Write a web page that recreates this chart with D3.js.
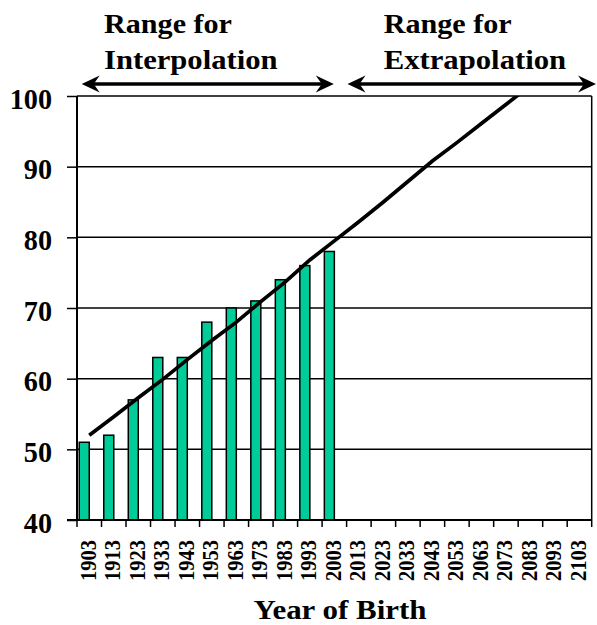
<!DOCTYPE html>
<html>
<head>
<meta charset="utf-8">
<script src="https://cdn.jsdelivr.net/npm/d3@7"></script>
<style>
  html, body { margin: 0; padding: 0; background: #fff; }
  svg { display: block; }
  text { font-family: "Liberation Serif", "Times New Roman", Times, Tinos, "Nimbus Roman", FreeSerif, serif; font-weight: bold; fill: #000; }
</style>
</head>
<body>
<svg id="chart" width="597" height="625"></svg>
<script>
const years = ["1903","1913","1923","1933","1943","1953","1963","1973","1983","1993","2003",
               "2013","2023","2033","2043","2053","2063","2073","2083","2093","2103"];
const barValues = [51, 52, 57, 63, 63, 68, 70, 71, 74, 76, 78];
const trendValues = [52.0, 54.6, 57.3, 59.9, 62.7, 65.4, 68.0, 70.9, 73.7, 76.8, 79.5,
                     82.2, 85.0, 87.9, 90.8, 93.4, 96.1, 98.8, 101.5];
const yTicks = [40, 50, 60, 70, 80, 90, 100];
const rangeLabels = [["Range for", "Interpolation"], ["Range for", "Extrapolation"]];
const xTitle = "Year of Birth";

(function () {
const svg = d3.select("#chart");
const pL = 77, pR = 591.7, pT = 96, pB = 520;

const x = d3.scaleBand().domain(years).range([pL, pR]).padding(0);
const y = d3.scaleLinear().domain([40, 100]).range([pB, pT]);
const bw = x.bandwidth();

svg.append("g").selectAll("line").data(yTicks.filter(d => d > 40)).join("line")
  .attr("x1", pL).attr("x2", pR)
  .attr("y1", d => y(d)).attr("y2", d => y(d))
  .attr("stroke", "#000").attr("stroke-width", 1.5);

svg.append("line").attr("x1", pR).attr("x2", pR).attr("y1", pT).attr("y2", pB)
  .attr("stroke", "#000").attr("stroke-width", 1.5);

svg.append("g").selectAll("rect").data(barValues).join("rect")
  .attr("x", (d, i) => x(years[i]) + bw / 2 - 10)
  .attr("width", 10)
  .attr("y", d => y(d))
  .attr("height", d => pB - y(d))
  .attr("fill", "#00CC99")
  .attr("stroke", "#000").attr("stroke-width", 1.5);

svg.append("clipPath").attr("id", "plotclip").append("rect")
  .attr("x", pL).attr("y", pT).attr("width", pR - pL).attr("height", pB - pT);
const line = d3.line().x((d, i) => x(years[i]) + bw / 2).y(d => y(d));
svg.append("path").datum(trendValues)
  .attr("d", line).attr("fill", "none").attr("stroke", "#000")
  .attr("stroke-width", 3.7).attr("clip-path", "url(#plotclip)");

const yAxis = svg.append("g").attr("transform", `translate(${pL},0)`)
  .call(d3.axisLeft(y).tickValues(yTicks).tickSize(10).tickPadding(0).tickFormat(d3.format("d")));
yAxis.attr("font-family", null).attr("font-size", null);
yAxis.select(".domain").attr("stroke", "#000").attr("stroke-width", 2).attr("d", `M0,${pT}V${pB}`);
yAxis.selectAll(".tick line").attr("stroke", "#000").attr("stroke-width", 1.5);
yAxis.selectAll(".tick text")
  .attr("x", -25).attr("dy", null).attr("y", 12)
  .attr("textLength", d => String(d).length * 14.1).attr("lengthAdjust", "spacingAndGlyphs")
  .style("font-size", "29px");

const xAxis = svg.append("g").attr("transform", `translate(0,${pB})`)
  .call(d3.axisBottom(x).tickSize(0).tickFormat(""));
xAxis.select(".domain").attr("stroke", "#000").attr("stroke-width", 2).attr("d", `M${pL - 10},0H${pR}`);
xAxis.selectAll(".tick").remove();
const boundaries = years.map(d => x(d)).concat([pR]);
xAxis.selectAll("line.tk").data(boundaries).join("line").attr("class", "tk")
  .attr("x1", d => d).attr("x2", d => d).attr("y1", 0).attr("y2", 7)
  .attr("stroke", "#000").attr("stroke-width", 1.5);

svg.append("g").selectAll("text").data(years).join("text")
  .attr("transform", d => `translate(${x(d) + bw / 2 + 6.5},540) rotate(-90)`)
  .attr("text-anchor", "end")
  .attr("textLength", 41).attr("lengthAdjust", "spacingAndGlyphs")
  .style("font-size", "23px")
  .text(d => d);

svg.append("text").attr("x", 340).attr("y", 619).attr("text-anchor", "middle")
  .attr("textLength", 173).attr("lengthAdjust", "spacingAndGlyphs")
  .style("font-size", "28px").text(xTitle);

const labelX = [104, 383.7];
const labelW = [[128, 173.5], [128, 182.5]];
rangeLabels.forEach((lines, k) => {
  lines.forEach((t, j) => {
    svg.append("text").attr("x", labelX[k]).attr("y", j === 0 ? 33 : 69)
      .attr("textLength", labelW[k][j]).attr("lengthAdjust", "spacingAndGlyphs")
      .style("font-size", "28px").text(t);
  });
});

const arrowY = 84;
const arrows = [[81.7, 333.8], [347.5, 596]];
function head(tx, dir) {
  return `M${tx},${arrowY}L${tx + dir * 18},${arrowY - 8.5}L${tx + dir * 12},${arrowY}L${tx + dir * 18},${arrowY + 8.5}Z`;
}
arrows.forEach(([a, b]) => {
  svg.append("line").attr("x1", a + 10).attr("x2", b - 10).attr("y1", arrowY).attr("y2", arrowY)
    .attr("stroke", "#000").attr("stroke-width", 3.3);
  svg.append("path").attr("d", head(a, 1)).attr("fill", "#000");
  svg.append("path").attr("d", head(b, -1)).attr("fill", "#000");
});
})();
</script>
</body>
</html>
